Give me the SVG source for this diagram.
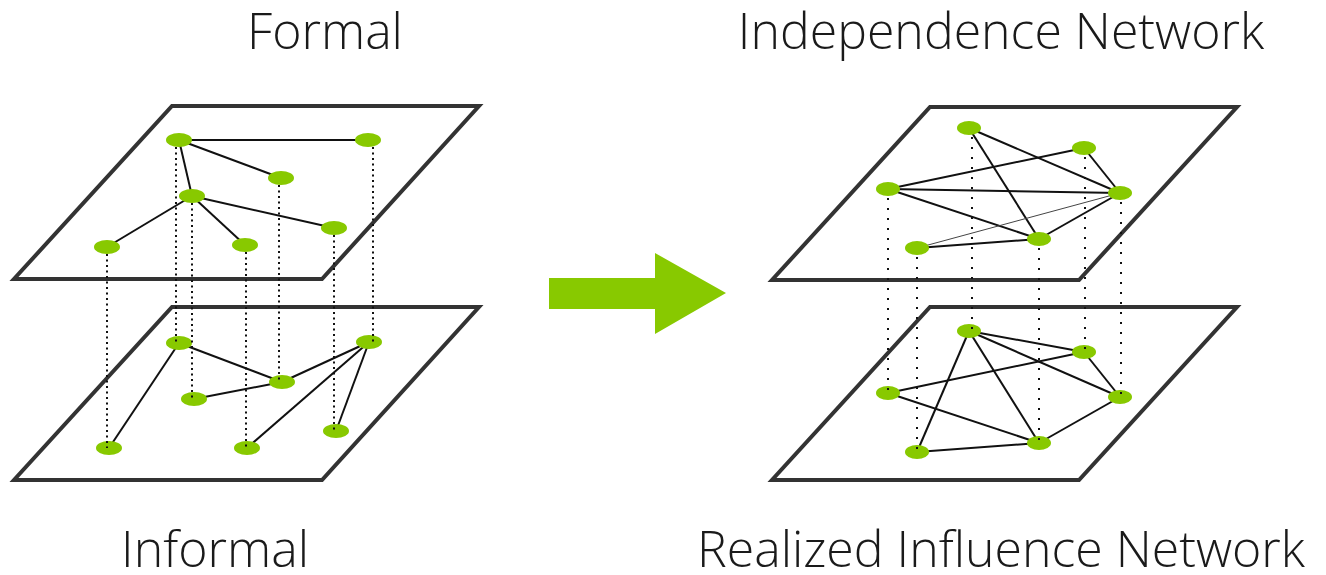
<svg xmlns="http://www.w3.org/2000/svg" width="1326" height="575" viewBox="0 0 1326 575">
  <style>
    .plane { fill: #ffffff; stroke: #333333; stroke-width: 4; stroke-linejoin: miter; }
    .edge { stroke: #111111; stroke-width: 2; fill: none; }
    .thin { stroke: #444444; stroke-width: 1; fill: none; }
    .dots { stroke: #111111; stroke-width: 2; fill: none; stroke-dasharray: 2 3.5; }
    .dots-wide { stroke: #111111; stroke-width: 2; fill: none; stroke-dasharray: 2 8; }
    .node { fill: #88c900; }
    .title { font-family: "Open Sans", "Liberation Sans", sans-serif; font-weight: 300; font-size: 50px; fill: #1a1a1a; text-anchor: middle; }
  </style>

  <!-- titles -->
  <text class="title" x="325" y="49">Formal</text>
  <text class="title" x="1001" y="49">Independence Network</text>
  <text class="title" x="215" y="567">Informal</text>
  <text class="title" x="1001" y="567">Realized Influence Network</text>

  <!-- layer planes -->
  <g id="planes">
    <polygon id="plane-formal" class="plane" points="172,106 479,106 322,279 14,279"/>
    <polygon id="plane-informal" class="plane" points="172,307 479,307 322,480 14,480"/>
    <polygon id="plane-independence" class="plane" points="930,107 1237,107 1079,280 772,280"/>
    <polygon id="plane-realized" class="plane" points="930,307 1237,307 1079,480 772,480"/>
  </g>

  <!-- transition arrow -->
  <polygon id="arrow" class="node" points="549,278 655,278 655,253 726,293 655,334 655,309 549,309"/>

  <g id="connectors">
    <!-- formal layer links -->
    <line class="edge" x1="179" y1="140" x2="368" y2="140"/>
    <line class="edge" x1="179" y1="140" x2="281" y2="178"/>
    <line class="edge" x1="179" y1="140" x2="192" y2="196"/>
    <line class="edge" x1="192" y1="196" x2="107" y2="247"/>
    <line class="edge" x1="192" y1="196" x2="245" y2="245"/>
    <line class="edge" x1="192" y1="196" x2="334" y2="228"/>
    <!-- informal layer links -->
    <line class="edge" x1="179" y1="343" x2="109" y2="448"/>
    <line class="edge" x1="179" y1="343" x2="282" y2="382"/>
    <line class="edge" x1="282" y1="382" x2="194" y2="399"/>
    <line class="edge" x1="282" y1="382" x2="369" y2="342"/>
    <line class="edge" x1="369" y1="342" x2="247" y2="448"/>
    <line class="edge" x1="369" y1="342" x2="336" y2="431"/>
    <!-- independence layer links -->
    <line class="edge" x1="969" y1="128" x2="1120" y2="193"/>
    <line class="edge" x1="969" y1="128" x2="1039" y2="239"/>
    <line class="edge" x1="1084" y1="148" x2="888" y2="189"/>
    <line class="edge" x1="1084" y1="148" x2="1120" y2="193"/>
    <line class="edge" x1="888" y1="189" x2="1120" y2="193"/>
    <line class="edge" x1="888" y1="189" x2="1039" y2="239"/>
    <line class="edge" x1="1120" y1="193" x2="1039" y2="239"/>
    <line class="edge" x1="917" y1="248" x2="1039" y2="239"/>
    <line class="thin" x1="917" y1="248" x2="1120" y2="193"/>
    <!-- realized layer links -->
    <line class="edge" x1="969" y1="331" x2="1084" y2="352"/>
    <line class="edge" x1="969" y1="331" x2="1120" y2="397"/>
    <line class="edge" x1="969" y1="331" x2="1039" y2="443"/>
    <line class="edge" x1="969" y1="331" x2="917" y2="452"/>
    <line class="edge" x1="1084" y1="352" x2="888" y2="393"/>
    <line class="edge" x1="1084" y1="352" x2="1120" y2="397"/>
    <line class="edge" x1="888" y1="393" x2="1039" y2="443"/>
    <line class="edge" x1="1120" y1="397" x2="1039" y2="443"/>
    <line class="edge" x1="917" y1="452" x2="1039" y2="443"/>
  </g>

  <g id="nodes">
    <g id="formal-nodes">
      <ellipse class="node" cx="179" cy="140" rx="13" ry="7"/>
      <ellipse class="node" cx="368" cy="140" rx="13" ry="7"/>
      <ellipse class="node" cx="281" cy="178" rx="13" ry="7"/>
      <ellipse class="node" cx="192" cy="196" rx="13" ry="7"/>
      <ellipse class="node" cx="334" cy="228" rx="13" ry="7"/>
      <ellipse class="node" cx="107" cy="247" rx="13" ry="7"/>
      <ellipse class="node" cx="245" cy="245" rx="13" ry="7"/>
    </g>
    <g id="informal-nodes">
      <ellipse class="node" cx="179" cy="343" rx="13" ry="7"/>
      <ellipse class="node" cx="369" cy="342" rx="13" ry="7"/>
      <ellipse class="node" cx="282" cy="382" rx="13" ry="7"/>
      <ellipse class="node" cx="194" cy="399" rx="13" ry="7"/>
      <ellipse class="node" cx="336" cy="431" rx="13" ry="7"/>
      <ellipse class="node" cx="109" cy="448" rx="13" ry="7"/>
      <ellipse class="node" cx="247" cy="448" rx="13" ry="7"/>
    </g>
    <g id="independence-nodes">
      <ellipse class="node" cx="969" cy="128" rx="12" ry="7"/>
      <ellipse class="node" cx="1084" cy="148" rx="12" ry="7"/>
      <ellipse class="node" cx="888" cy="189" rx="12" ry="7"/>
      <ellipse class="node" cx="1120" cy="193" rx="12" ry="7"/>
      <ellipse class="node" cx="1039" cy="239" rx="12" ry="7"/>
      <ellipse class="node" cx="917" cy="248" rx="12" ry="7"/>
    </g>
    <g id="realized-nodes">
      <ellipse class="node" cx="969" cy="331" rx="12" ry="7"/>
      <ellipse class="node" cx="1084" cy="352" rx="12" ry="7"/>
      <ellipse class="node" cx="888" cy="393" rx="12" ry="7"/>
      <ellipse class="node" cx="1120" cy="397" rx="12" ry="7"/>
      <ellipse class="node" cx="1039" cy="443" rx="12" ry="7"/>
      <ellipse class="node" cx="917" cy="452" rx="12" ry="7"/>
    </g>
  </g>

  <!-- vertical correspondences between layers -->
  <g id="layer-links">
    <line class="dots" x1="107" y1="254" x2="107" y2="448"/>
    <line class="dots" x1="176" y1="147" x2="176" y2="343"/>
    <line class="dots" x1="192" y1="203" x2="192" y2="399"/>
    <line class="dots" x1="246" y1="252" x2="246" y2="448"/>
    <line class="dots" x1="279" y1="185" x2="279" y2="382"/>
    <line class="dots" x1="334" y1="235" x2="334" y2="431"/>
    <line class="dots" x1="373" y1="147" x2="373" y2="342"/>
    <line class="dots-wide" x1="888" y1="198" x2="888" y2="393"/>
    <line class="dots-wide" x1="917" y1="257" x2="917" y2="452"/>
    <line class="dots-wide" x1="972" y1="137" x2="972" y2="331"/>
    <line class="dots-wide" x1="1039" y1="248" x2="1039" y2="443"/>
    <line class="dots-wide" x1="1085" y1="157" x2="1085" y2="352"/>
    <line class="dots-wide" x1="1121" y1="202" x2="1121" y2="397"/>
  </g>
</svg>
